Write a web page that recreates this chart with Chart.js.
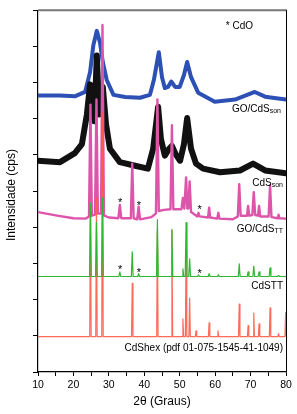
<!DOCTYPE html>
<html>
<head>
<meta charset="utf-8">
<script src="https://cdn.jsdelivr.net/npm/chart.js@4.4.1/dist/chart.umd.min.js"></script>
<style>
  html, body { margin: 0; padding: 0; background: #fff; }
  canvas { display: block; }
</style>
</head>
<body>
<canvas id="xrd" width="297" height="414"></canvas>
<script>
// values; y is in stacked offset units (1 unit = 1 y tick)

// CdShex reference pattern (pdf 01-075-1545) - sticks
const hexPos = [24.8, 26.5, 28.2, 36.6, 43.7, 47.8, 50.9, 51.8, 52.8, 54.6, 58.3, 60.8, 66.8, 69.3, 70.9, 72.4, 75.5, 77.9, 79.9];
const hexTop = [4.54, 4.81, 7.12, 2.45, 3.91, 3.91, 1.47, 3.37, 2.04, 1.14, 1.36, 1.14, 1.88, 1.28, 1.63, 1.33, 1.77, 1.06, 1.65];
const hexBase = 0.98;

// CdSTT
const sttPos = [24.8, 26.5, 28.2, 33.1, 36.6, 38.4, 43.7, 47.8, 50.9, 51.8, 52.8, 55.3, 58.3, 60.9, 66.8, 69.3, 70.9, 72.4, 75.5, 77.9];
const sttTop = [4.67, 4.13, 4.81, 2.77, 3.32, 2.72, 4.21, 3.94, 2.85, 4.13, 3.13, 2.69, 2.72, 2.69, 2.99, 2.77, 2.93, 2.77, 2.88, 2.67];
const sttBase = 2.64;

// GO/CdS TT
const goTTx = [10, 15, 20, 23.5, 24.4, 24.8, 25.2, 26.1, 26.5, 26.9, 27.8, 28.2, 28.6, 30, 32.7, 33.1, 33.5, 36.2, 36.6, 37.0, 38.0, 38.4, 38.8, 42, 43.3, 43.7, 44.1, 45.5, 47.4, 47.8, 48.2, 50.5, 50.9, 51.3, 51.45, 51.8, 52.15, 52.45, 52.8, 53.2, 55.0, 55.3, 55.6, 58.0, 58.3, 58.6, 60.6, 60.9, 61.2, 65, 66.4, 66.8, 67.2, 69.0, 69.3, 69.6, 70.5, 70.9, 71.3, 72.1, 72.4, 72.7, 75.1, 75.5, 75.9, 77.7, 77.9, 78.1, 80];
const goTTy = [4.42, 4.33, 4.25, 4.24, 4.30, 7.39, 4.32, 4.35, 7.53, 4.38, 4.38, 9.59, 4.33, 4.27, 4.25, 4.62, 4.25, 4.25, 5.76, 4.25, 4.22, 4.57, 4.22, 4.28, 4.38, 7.53, 4.45, 4.48, 4.50, 6.82, 4.50, 4.50, 4.81, 4.52, 4.52, 5.38, 4.52, 4.52, 5.27, 4.42, 4.30, 4.40, 4.30, 4.27, 4.54, 4.27, 4.24, 4.40, 4.24, 4.22, 4.30, 5.19, 4.32, 4.32, 4.59, 4.32, 4.34, 4.97, 4.34, 4.32, 4.59, 4.30, 4.30, 5.16, 4.28, 4.25, 4.35, 4.25, 4.24];

// CdS son
const sonX = [10, 16.2, 20.4, 22.4, 23.8, 24.7, 25.9, 26.6, 27.3, 28.3, 29.2, 30.3, 33.1, 37.4, 41.0, 42.5, 43.9, 44.7, 45.8, 47.0, 47.8, 48.8, 50.1, 51.2, 52.1, 53.2, 54.6, 56.6, 61.4, 67.0, 70.7, 74.1, 80];
const sonY = [5.84, 5.80, 6.05, 6.30, 7.12, 7.95, 6.93, 8.75, 7.12, 7.88, 6.85, 6.17, 5.80, 5.70, 5.62, 6.17, 7.33, 6.44, 5.98, 6.17, 6.25, 6.03, 5.84, 6.30, 7.02, 6.17, 5.76, 5.62, 5.52, 5.57, 5.76, 5.57, 5.49];

// GO/CdS son
const goSonX = [10, 16.2, 20.4, 23.3, 24.7, 25.6, 26.6, 27.5, 28.3, 29.4, 31.3, 34.6, 38.8, 41.6, 42.7, 44.1, 45.0, 45.8, 46.7, 47.6, 48.7, 50.0, 51.2, 52.1, 53.2, 55.2, 59.9, 65.6, 71.2, 74.1, 80];
const goSonY = [7.64, 7.64, 7.62, 7.74, 8.29, 9.02, 9.43, 9.10, 8.56, 8.07, 7.66, 7.60, 7.58, 7.66, 8.07, 8.84, 8.15, 7.85, 7.88, 8.03, 7.88, 7.88, 8.21, 8.57, 8.15, 7.72, 7.47, 7.53, 7.74, 7.61, 7.53];

// CdO markers (*)
const cdoX = [33.2, 38.5, 55.6];
const cdoOnGoTT = [4.76, 4.67, 4.57];
const cdoOnSTT = [2.89, 2.83, 2.80];

const FONT = '"Liberation Sans", Arial, sans-serif';

function sticks(pos, top, base, half) {
  const pts = [{ x: 10, y: base }];
  pos.forEach((p, i) => {
    pts.push({ x: p - half, y: base }, { x: p, y: top[i] }, { x: p + half, y: base });
  });
  pts.push({ x: 80, y: base });
  return pts;
}
const pairs = (xs, ys) => xs.map((v, i) => ({ x: v, y: ys[i] }));

function label(ctx, main, sub, right, cy, size, subSize) {
  ctx.font = subSize + 'px ' + FONT;
  const ws = sub ? ctx.measureText(sub).width : 0;
  ctx.font = size + 'px ' + FONT;
  const wm = ctx.measureText(main).width;
  const x0 = right - ws - wm;
  const base = cy + size * 0.36;
  ctx.fillText(main, x0, base);
  if (sub) {
    ctx.font = subSize + 'px ' + FONT;
    ctx.fillText(sub, x0 + wm, base + 1.5);
  }
}

const notes = {
  id: 'notes',
  afterDraw(chart) {
    const { ctx, chartArea: a, scales: { x, y } } = chart;
    ctx.save();
    // frame
    ctx.strokeStyle = '#777';
    ctx.lineWidth = 2;
    ctx.beginPath(); ctx.moveTo(a.left, a.top); ctx.lineTo(a.right + 1, a.top); ctx.stroke();
    ctx.strokeStyle = '#000';
    ctx.lineWidth = 1;
    ctx.beginPath(); ctx.moveTo(a.right + 0.5, a.top); ctx.lineTo(a.right + 0.5, a.bottom); ctx.stroke();

    ctx.fillStyle = '#000';
    ctx.textAlign = 'center';
    ctx.textBaseline = 'alphabetic';
    // CdO stars
    ctx.font = '11px ' + FONT;
    cdoX.forEach((v, i) => {
      ctx.fillText('*', x.getPixelForValue(v), y.getPixelForValue(cdoOnGoTT[i]) + 6);
      ctx.fillText('*', x.getPixelForValue(v), y.getPixelForValue(cdoOnSTT[i]) + 6);
    });

    ctx.textAlign = 'left';
    const r = a.right - 3;
    label(ctx, '* CdO', '', 253, 25, 10, 7);
    label(ctx, 'GO/CdS', 'son', r - 2, 108, 10, 7);
    label(ctx, 'CdS', 'son', r, 182, 10, 7);
    label(ctx, 'GO/CdS', 'TT', r, 228, 10, 7);
    label(ctx, 'CdSTT', '', r, 285, 10, 7);
    label(ctx, 'CdShex (pdf 01-075-1545-41-1049)', '', r, 347, 10, 7);

    // axis titles
    ctx.textAlign = 'center';
    ctx.textBaseline = 'middle';
    ctx.font = '12px ' + FONT;
    ctx.fillText('2θ (Graus)', (a.left + a.right) / 2, 402);
    ctx.translate(12, 195);
    ctx.rotate(-Math.PI / 2);
    ctx.fillText('Intensidade (cps)', 0, 0);
    ctx.restore();
  }
};

const lineSet = (data, color, width) => ({
  data, borderColor: color, borderWidth: width, pointRadius: 0,
  tension: 0, borderJoinStyle: 'round', borderCapStyle: 'round', fill: false
});

new Chart(document.getElementById('xrd').getContext('2d'), {
  type: 'line',
  data: {
    datasets: [
      lineSet(sticks(sttPos, sttTop, sttBase, 0.25), '#2fb82f', 1.2),
      lineSet(sticks(hexPos, hexTop, hexBase, 0.2), 'rgba(255,90,72,0.9)', 1.2),
      lineSet(pairs(goTTx, goTTy), '#dd55aa', 2.4),
      lineSet(pairs(sonX, sonY), '#111111', 6),
      lineSet(pairs(goSonX, goSonY), '#2d50b4', 4)
    ]
  },
  options: {
    responsive: false,
    animation: false,
    layout: { padding: { left: 0, right: 11, top: 4, bottom: 0 } },
    plugins: { legend: { display: false }, tooltip: { enabled: false } },
    scales: {
      x: {
        type: 'linear', min: 10, max: 80,
        afterFit: s => { s.height = 42; },
        ticks: {
          stepSize: 5, autoSkip: false, maxRotation: 0, padding: 3,
          color: '#000', font: { size: 10.5, family: FONT },
          callback: v => (v % 10 === 0 ? v : '')
        },
        grid: { drawOnChartArea: false, drawTicks: true, tickLength: 4, color: '#000' },
        border: { color: '#000', width: 1.2 }
      },
      y: {
        min: 0, max: 10,
        afterFit: s => { s.width = 38; },
        ticks: { stepSize: 1, callback: () => '' },
        grid: { drawOnChartArea: false, drawTicks: true, tickLength: 5, color: '#000' },
        border: { color: '#000', width: 1.2 }
      }
    }
  },
  plugins: [notes]
});
</script>
</body>
</html>
